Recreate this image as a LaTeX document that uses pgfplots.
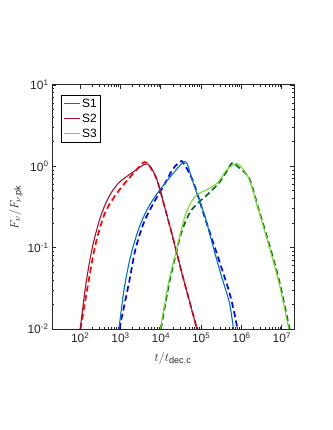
\documentclass[border=0pt]{standalone}
\usepackage{pgfplots}
\pgfplotsset{compat=1.18}
\usepackage{fontspec}
\setmainfont{Liberation Sans}
\definecolor{sone}{HTML}{0072BD}
\definecolor{stwo}{HTML}{A2142F}
\definecolor{sthree}{HTML}{77D92A}
\definecolor{dgreen}{HTML}{006B1E}
\definecolor{axgray}{HTML}{262626}
\begin{document}
\begin{tikzpicture}
\useasboundingbox (-52pt,-101pt) rectangle (280pt,329pt);
\begin{axis}[
  at={(0,0)}, anchor=south west,
  scale only axis, width=242pt, height=244pt,
  xmode=log, ymode=log,
  xmin=20, xmax=2e7, ymin=0.01, ymax=10,
  xtick={1e2,1e3,1e4,1e5,1e6,1e7},
  ytick={0.01,0.1,1,10},
  minor x tick num=8, minor y tick num=8,
  tick align=inside,
  major tick length=4pt, minor tick length=2.5pt,
  axis line style={line width=1pt, axgray},
  every tick/.style={line width=0.9pt, axgray},
  /pgf/number format/assume math mode=true,
  log number format basis/.code 2 args={#1\textsuperscript{\pgfmathprintnumber{#2}}},
  tick label style={font=\fontsize{12}{14}\selectfont, text=axgray},
  xlabel={$t/t_{\mathrm{dec,c}}$},
  ylabel={$F_\nu/F_{\nu,\mathrm{pk}}$},
  label style={font=\fontsize{13}{15}\selectfont, text=axgray},
  xlabel style={yshift=-3pt},
  ylabel style={yshift=-2pt},
  legend style={at={(0.037,0.959)}, anchor=north west, draw=black, line width=0.9pt,
    font=\fontsize{12}{14}\selectfont, inner sep=1.5pt, row sep=1pt},
  legend cell align=left,
  legend image code/.code={\draw[#1] (-1pt,0pt) -- (15pt,0pt);},
]
\addlegendimage{draw=sone, line width=1.2pt}
\addlegendimage{draw=stwo, line width=1.2pt}
\addlegendimage{draw=sthree, line width=1.2pt}
\legend{S1,S2,S3}
\addplot[blue, line width=1.7pt, dash pattern=on 6pt off 3.5pt, smooth, forget plot] coordinates {
(933,0.01) (1620,0.037) (2340,0.095) (3800,0.204) (6610,0.355) (11700,0.575)
(20000,0.93) (30200,1.14) (36300,1.10) (63100,0.65) (135000,0.204)
(288000,0.066) (501000,0.028) (661000,0.0158) (794000,0.01)};
\addplot[red, line width=1.7pt, dash pattern=on 6pt off 3.5pt, smooth, forget plot] coordinates {
(102,0.01) (170,0.045) (245,0.115) (398,0.257) (631,0.39) (1120,0.575)
(1950,0.79) (3470,1.09) (4170,1.12) (5010,1.04) (7940,0.69) (12900,0.295)
(20400,0.126) (33100,0.049) (52500,0.021) (79000,0.01)};
\addplot[dgreen, line width=1.7pt, dash pattern=on 6pt off 3.5pt, smooth, forget plot] coordinates {
(10000,0.01) (15800,0.035) (22900,0.079) (33100,0.16) (52500,0.27)
(83200,0.355) (148000,0.457) (257000,0.60) (380000,0.79) (501000,0.99)
(603000,1.11) (794000,1.0) (1550000,0.71) (2750000,0.28) (4790000,0.112)
(8510000,0.04) (15500000,0.01)};
\addplot[sone, line width=1.1pt, smooth, forget plot] coordinates {
(912,0.01) (1230,0.031) (1780,0.079) (2820,0.17) (4570,0.295) (7940,0.457)
(14100,0.66) (24500,0.92) (36300,1.12) (44700,1.08) (63100,0.63)
(123000,0.245) (195000,0.105) (316000,0.045) (501000,0.021) (631000,0.01)};
\addplot[stwo, line width=1.1pt, smooth, forget plot] coordinates {
(100,0.01) (140,0.037) (204,0.105) (324,0.245) (525,0.43) (912,0.63)
(1950,0.836) (3800,1.05) (4570,1.07) (5620,0.98) (7940,0.69) (12900,0.295)
(20400,0.126) (33100,0.049) (52500,0.021) (77600,0.01)};
\addplot[sthree, line width=1.1pt, smooth, forget plot] coordinates {
(9770,0.01) (15500,0.037) (22400,0.079) (30200,0.145) (39800,0.245) (57500,0.37)
(83200,0.457) (148000,0.525) (257000,0.63) (417000,0.89) (550000,1.0) (741000,1.08)
(955000,1.0) (1550000,0.69) (2750000,0.27) (4790000,0.105) (8510000,0.037)
(14800000,0.01)};
\end{axis}
\end{tikzpicture}
\end{document}
